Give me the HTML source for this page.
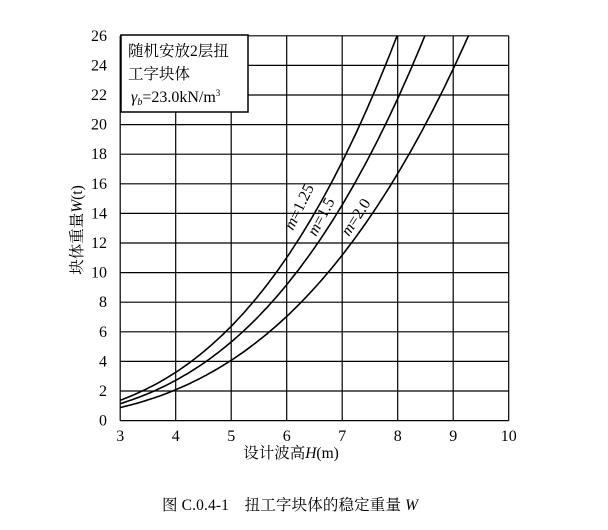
<!DOCTYPE html>
<html><head><meta charset="utf-8"><style>
body{margin:0;background:#fff;}
svg{display:block;font-family:"Liberation Serif","Noto Serif CJK SC",serif;}
</style></head><body>
<svg id="s" width="608" height="530" viewBox="0 0 608 530" xmlns="http://www.w3.org/2000/svg">
<g id="grid" stroke="#000" stroke-width="1.2" fill="none"></g>
<rect x="121" y="35" width="127" height="77" fill="#fff" stroke="#000" stroke-width="1.5"/>
<text x="128" y="56" font-size="15.5">随机安放2层扭</text>
<text x="128" y="79" font-size="15.5">工字块体</text>
<text x="131" y="102" font-size="16"><tspan font-style="italic">γ</tspan><tspan font-size="10" dy="3" font-style="italic">b</tspan><tspan dy="-3">=23.0kN/m</tspan><tspan font-size="9" dy="-6">3</tspan></text>
<g id="curves" stroke="#000" stroke-width="1.6" fill="none"></g>
<g font-size="16" text-anchor="end" id="yl"></g>
<g font-size="16" text-anchor="middle" id="xl"></g>
<text x="291" y="458" font-size="15.5" text-anchor="middle">设计波高<tspan font-style="italic">H</tspan>(m)</text>
<text transform="translate(82,230) rotate(-90)" font-size="15.5" text-anchor="middle">块体重量<tspan font-style="italic">W</tspan>(t)</text>
<text transform="translate(293,231) rotate(-64)" font-size="16"><tspan font-style="italic">m</tspan>=1.25</text>
<text transform="translate(316,237) rotate(-62)" font-size="16"><tspan font-style="italic">m</tspan>=1.5</text>
<text transform="translate(349,237) rotate(-57)" font-size="16"><tspan font-style="italic">m</tspan>=2.0</text>
<text x="290" y="510" font-size="15.5" text-anchor="middle" textLength="256">图 C.0.4-1　扭工字块体的稳定重量 <tspan font-style="italic">W</tspan></text>
</svg>
<script>
var X=function(h){return 120.2+(h-3)*55.5},Y=function(w){return 420.6-w*14.8};
var g=document.getElementById('grid'),s='';
for(var i=3;i<=10;i++)s+='<line x1="'+X(i)+'" y1="'+Y(0)+'" x2="'+X(i)+'" y2="'+Y(26)+'"/>';
for(var j=0;j<=26;j+=2)s+='<line x1="'+X(3)+'" y1="'+Y(j)+'" x2="'+X(10)+'" y2="'+Y(j)+'"/>';
g.innerHTML=s;
var yl='';for(j=0;j<=26;j+=2)yl+='<text x="107" y="'+(Y(j)+5)+'">'+j+'</text>';
document.getElementById('yl').innerHTML=yl;
var xl='';for(i=3;i<=10;i++)xl+='<text x="'+X(i)+'" y="441">'+i+'</text>';
document.getElementById('xl').innerHTML=xl;
var c='';[0.051,0.0425,0.0326].forEach(function(k){var d='';for(var h=3;h<=10;h+=0.05){var w=k*h*h*h;if(w>26){h=Math.cbrt(26/k);w=26;}d+=(d?'L':'M')+X(h).toFixed(1)+','+Y(w).toFixed(1);if(w>=26)break;}c+='<path d="'+d+'"/>';});
document.getElementById('curves').innerHTML=c;
</script>
</body></html>
